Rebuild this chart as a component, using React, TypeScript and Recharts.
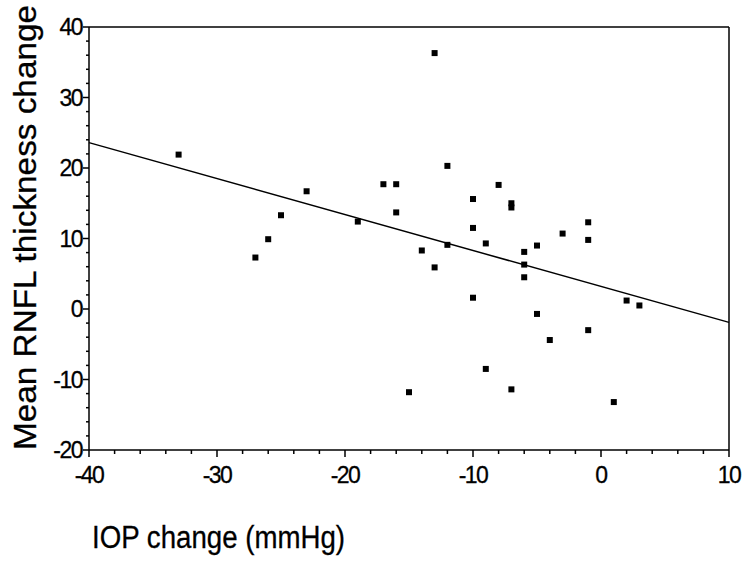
import { ScatterChart, Scatter, XAxis, YAxis, ReferenceLine } from 'recharts';

// IOP change (mmHg) vs mean RNFL thickness change
const iopChange = [
  -33, -27, -26, -25, -23, -19, -17, -16, -16, -15, -14, -13, -13, -12, -12,
  -10, -10, -10, -9, -9, -8, -7, -7, -7, -6, -6, -6, -5, -5, -4, -3, -1, -1, -1, 1, 2, 3,
];
const rnflChange = [
  21.9, 7.3, 9.9, 13.3, 16.7, 12.4, 17.7, 17.7, 13.7, -11.8, 8.3, 36.3, 5.9, 20.3, 9.1,
  15.6, 11.5, 1.6, 9.3, -8.5, 17.6, 14.4, 15.0, -11.4, 8.1, 6.3, 4.5, 9.0, -0.7, -4.4, 10.7, 12.3, 9.8, -3.0, -13.2, 1.2, 0.5,
];

// fitted regression line end points
const fitStart = { x: -40, y: 23.6 };
const fitEnd = { x: 10, y: -1.9 };

const xTicks = [-40, -38, -36, -34, -32, -30, -28, -26, -24, -22, -20, -18, -16, -14, -12, -10, -8, -6, -4, -2, 0, 2, 4, 6, 8, 10];
const yTicks = [-20, -18, -16, -14, -12, -10, -8, -6, -4, -2, 0, 2, 4, 6, 8, 10, 12, 14, 16, 18, 20, 22, 24, 26, 28, 30, 32, 34, 36, 38, 40];

const data = iopChange.map((x, i) => ({ x, y: rnflChange[i] }));

const font = 'Arial, "Liberation Sans", sans-serif';

const XTick = (props: any) => {
  const { x, y, payload } = props;
  const major = payload.value % 10 === 0;
  return (
    <g>
      <line x1={x} x2={x} y1={y} y2={y + (major ? 7 : 4)} stroke="#000" strokeWidth={1.5} />
      {major && (
        <text x={x} y={y + 33} textAnchor="middle" fontSize={23} fontFamily={font} fill="#000"
          stroke="#000" strokeWidth={0.3} letterSpacing={-1.5}>
          {payload.value}
        </text>
      )}
    </g>
  );
};

const YTick = (props: any) => {
  const { x, y, payload } = props;
  const major = payload.value % 10 === 0;
  return (
    <g>
      <line x1={x} x2={x - (major ? 6 : 3)} y1={y} y2={y} stroke="#000" strokeWidth={1.5} />
      {major && (
        <text x={x - 7} y={y + 8} textAnchor="end" fontSize={23} fontFamily={font} fill="#000"
          stroke="#000" strokeWidth={0.3} letterSpacing={-1.5}>
          {payload.value}
        </text>
      )}
    </g>
  );
};

const Square = (props: any) => {
  const { cx, cy } = props;
  return <rect x={cx - 3} y={cy - 3} width={6} height={6} fill="#000" />;
};

export default function App() {
  return (
    <div style={{ position: 'absolute', left: 0, top: 0, width: 750, height: 564, background: '#fff' }}>
      <ScatterChart width={750} height={564} margin={{ top: 27, right: 21, bottom: 0, left: 0 }}>
        <XAxis
          type="number"
          dataKey="x"
          domain={[-40, 10]}
          ticks={xTicks}
          interval={0}
          height={114}
          tickSize={0}
          tickMargin={0}
          tickLine={false}
          tick={<XTick />}
          axisLine={{ stroke: '#000', strokeWidth: 1.5 }}
        />
        <YAxis
          type="number"
          dataKey="y"
          domain={[-20, 40]}
          ticks={yTicks}
          interval={0}
          width={89}
          tickSize={0}
          tickMargin={0}
          tickLine={false}
          tick={<YTick />}
          axisLine={{ stroke: '#000', strokeWidth: 1.5 }}
        />
        <ReferenceLine y={40} stroke="#000" strokeWidth={1.5} />
        <ReferenceLine x={10} stroke="#000" strokeWidth={1.5} />
        <ReferenceLine segment={[fitStart, fitEnd]} stroke="#000" strokeWidth={1.5} />
        <Scatter data={data} shape={<Square />} isAnimationActive={false} />
        <text
          x={92}
          y={548}
          fontSize={31}
          fontFamily={font}
          fill="#000"
          stroke="#000"
          strokeWidth={0.3}
          textLength={253}
          lengthAdjust="spacingAndGlyphs"
        >
          IOP change (mmHg)
        </text>
        <text
          transform="translate(36, 450) rotate(-90)"
          x={0}
          y={0}
          fontSize={31}
          fontFamily={font}
          fill="#000"
          stroke="#000"
          strokeWidth={0.3}
          textLength={445}
          lengthAdjust="spacingAndGlyphs"
        >
          Mean RNFL thickness change
        </text>
      </ScatterChart>
    </div>
  );
}
